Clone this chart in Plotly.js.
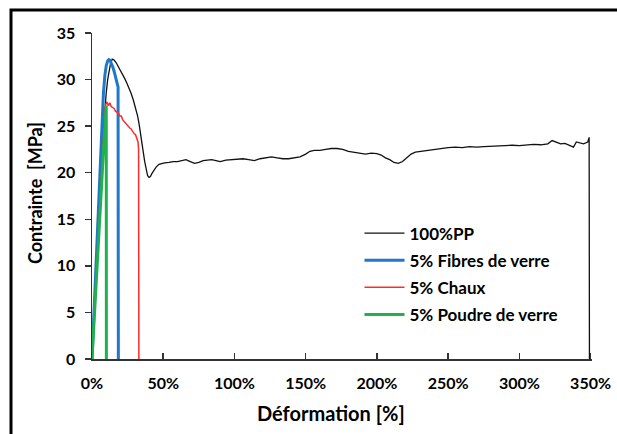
<!DOCTYPE html>
<html>
<head>
<meta charset="utf-8">
<script src="https://cdn.plot.ly/plotly-3.0.1.min.js"></script>
<style>html,body{margin:0;padding:0;background:#fff;}#chart{width:617px;height:434px;}</style>
</head>
<body>
<div id="chart"></div>
<script>
// Series names
const seriesNames = ["100%PP", "5% Fibres de verre", "5% Chaux", "5% Poudre de verre"];

// 100% PP (strain %, stress MPa)
const ppX = [0,1,2,3,4,5,6,7,8,9,10,11,12,13,14.2,15.5,17,18.5,20,21.5,23,24.5,26,27.5,29,30.5,32,33,34,35,36,37,38,39,40,41,42,43.5,45,47,49,51,54,57,60,63,66,69,72,75,78,81,84,87,90,94,98,102,106,110,114,118,122,126,130,134,138,142,146,150,153,156,160,164,168,172,176,180,184,188,192,196,200,203,206,209,212,215,218,221,224,227,231,235,240,245,250,255,260,265,270,275,280,285,290,295,300,305,310,315,320,323,326,329,332,335,338,340,342,345,348,349,349.2];
const ppY = [0,3.5,7,10.5,14,17,20,22.7,25,27,28.6,30,31,31.7,32.2,32.1,31.8,31.4,31.0,30.6,30.1,29.6,29.1,28.5,27.8,27.0,26.1,25.3,24.4,23.3,22.2,21.2,20.3,19.7,19.5,19.6,19.9,20.3,20.6,20.9,21.0,21.05,21.1,21.2,21.2,21.3,21.4,21.2,21.0,21.1,21.3,21.35,21.4,21.3,21.2,21.35,21.4,21.4,21.5,21.4,21.3,21.5,21.6,21.7,21.6,21.5,21.5,21.6,21.7,22.0,22.3,22.4,22.4,22.5,22.6,22.6,22.5,22.3,22.2,22.1,22.0,22.1,22.05,21.9,21.6,21.4,21.1,21.0,21.2,21.6,22.0,22.2,22.3,22.4,22.5,22.6,22.7,22.75,22.7,22.8,22.75,22.8,22.85,22.9,22.9,22.95,22.9,23.0,23.05,23.0,23.1,23.45,23.3,23.1,23.15,22.95,22.75,23.3,23.2,23.1,23.3,23.8,0];

// 5% Fibres de verre
const fibX = [0,1,2,3,4,5,6,7,8,9,10,11,11.8,12.5,13.5,14.5,15.5,16.5,17.5,18.3,18.5];
const fibY = [0,3.6,7.2,10.8,14.2,17.8,21.5,25.5,28.5,30.4,31.5,32.0,32.15,32.1,31.8,31.4,30.9,30.3,29.7,29.2,0];

// 5% Chaux
const chX = [0,1,2,3,4,5,6,7,8,9,9.8,10.5,11.5,12.5,13.5,14.5,15.5,16.5,17.5,18.5,19.5,20.5,21.5,22.5,23.5,24.5,25.5,26.5,27.5,28.5,29.5,30.5,31.5,32.3,32.7,32.9];
const chY = [0,3,6,9,12,15,18,21,24,26.5,27.4,27.6,27.2,27.5,27.1,27.0,26.9,26.6,26.5,26.4,26.1,26.1,25.7,25.5,25.4,25.1,25.0,24.8,24.7,24.4,24.2,24.1,23.7,23.3,22.5,0];

// 5% Poudre de verre
const pdX = [0,1,2,3,4,5,6,7,8,9,9.7,10,10.1];
const pdY = [0,2.6,5.3,8.0,10.8,13.6,16.5,19.4,22.3,25.2,27.0,27.2,0];

// Axis ticks
const xTicks = [0,50,100,150,200,250,300,350];
const xTickText = ["0%","50%","100%","150%","200%","250%","300%","350%"];
const yTicks = [0,5,10,15,20,25,30,35];

const FONT = "Lato, 'Open Sans', sans-serif";

const traces = [
  {x: ppX, y: ppY, name: seriesNames[0], legendgroup: "a", line: {color: "#111111", width: 1.3}},
  {x: fibX, y: fibY, name: seriesNames[1], legendgroup: "b", line: {color: "#1f78c8", width: 3}},
  {x: chX, y: chY, name: seriesNames[2], legendgroup: "c", line: {color: "#ff2a2a", width: 1.5}},
  {x: pdX, y: pdY, name: seriesNames[3], legendgroup: "d", line: {color: "#1fb04f", width: 3}}
].map(t => Object.assign({type: "scatter", mode: "lines"}, t));

const layout = {
  width: 617, height: 434,
  margin: {l: 92, r: 25, t: 33, b: 75},
  paper_bgcolor: "#ffffff", plot_bgcolor: "#ffffff",
  font: {family: FONT, color: "#000", size: 16, weight: "bold"},
  showlegend: true,
  legend: {
    x: 0.535, y: 0.44, xanchor: "left", yanchor: "top",
    bgcolor: "rgba(0,0,0,0)", tracegroupgap: 2, itemwidth: 40,
    font: {family: FONT, size: 17, color: "#000", weight: "bold"}
  },
  xaxis: {
    range: [0, 351], tickvals: xTicks, ticktext: xTickText,
    showgrid: false, zeroline: false, showline: true, linecolor: "#333", linewidth: 1.5,
    ticks: "inside", ticklen: 6, tickcolor: "#333", tickwidth: 1.5,
    ticklabelstandoff: 9,
    tickfont: {family: FONT, size: 16, weight: "bold", color: "#000"}
  },
  yaxis: {
    range: [0, 35], tickvals: yTicks,
    showgrid: false, zeroline: false, showline: true, linecolor: "#333", linewidth: 1.5,
    ticks: "outside", ticklen: 6, tickcolor: "#333", tickwidth: 1.5,
    ticklabelstandoff: 6,
    tickfont: {family: FONT, size: 16, weight: "bold", color: "#000"}
  },
  annotations: [{
    text: "Déformation [%]", xref: "paper", yref: "paper",
    x: (331 - 92) / 500, y: -(413 - 359) / 326, xanchor: "center", yanchor: "middle",
    showarrow: false, font: {family: FONT, size: 20, weight: "bold", color: "#000"}
  }, {
    text: "Contrainte  [MPa]", xref: "paper", yref: "paper", textangle: -90,
    x: (35 - 92) / 500, y: (359 - 193) / 326, xanchor: "center", yanchor: "middle",
    showarrow: false, font: {family: FONT, size: 18, weight: "bold", color: "#000"}
  }],
  shapes: [{
    type: "path", xref: "paper", yref: "paper",
    path: "M -0.162 -0.3 L -0.162 1.0706 L 1.1 1.0706",
    line: {color: "#000", width: 3}
  }]
};

Plotly.newPlot("chart", traces, layout, {displayModeBar: false, staticPlot: true});
</script>
</body>
</html>
